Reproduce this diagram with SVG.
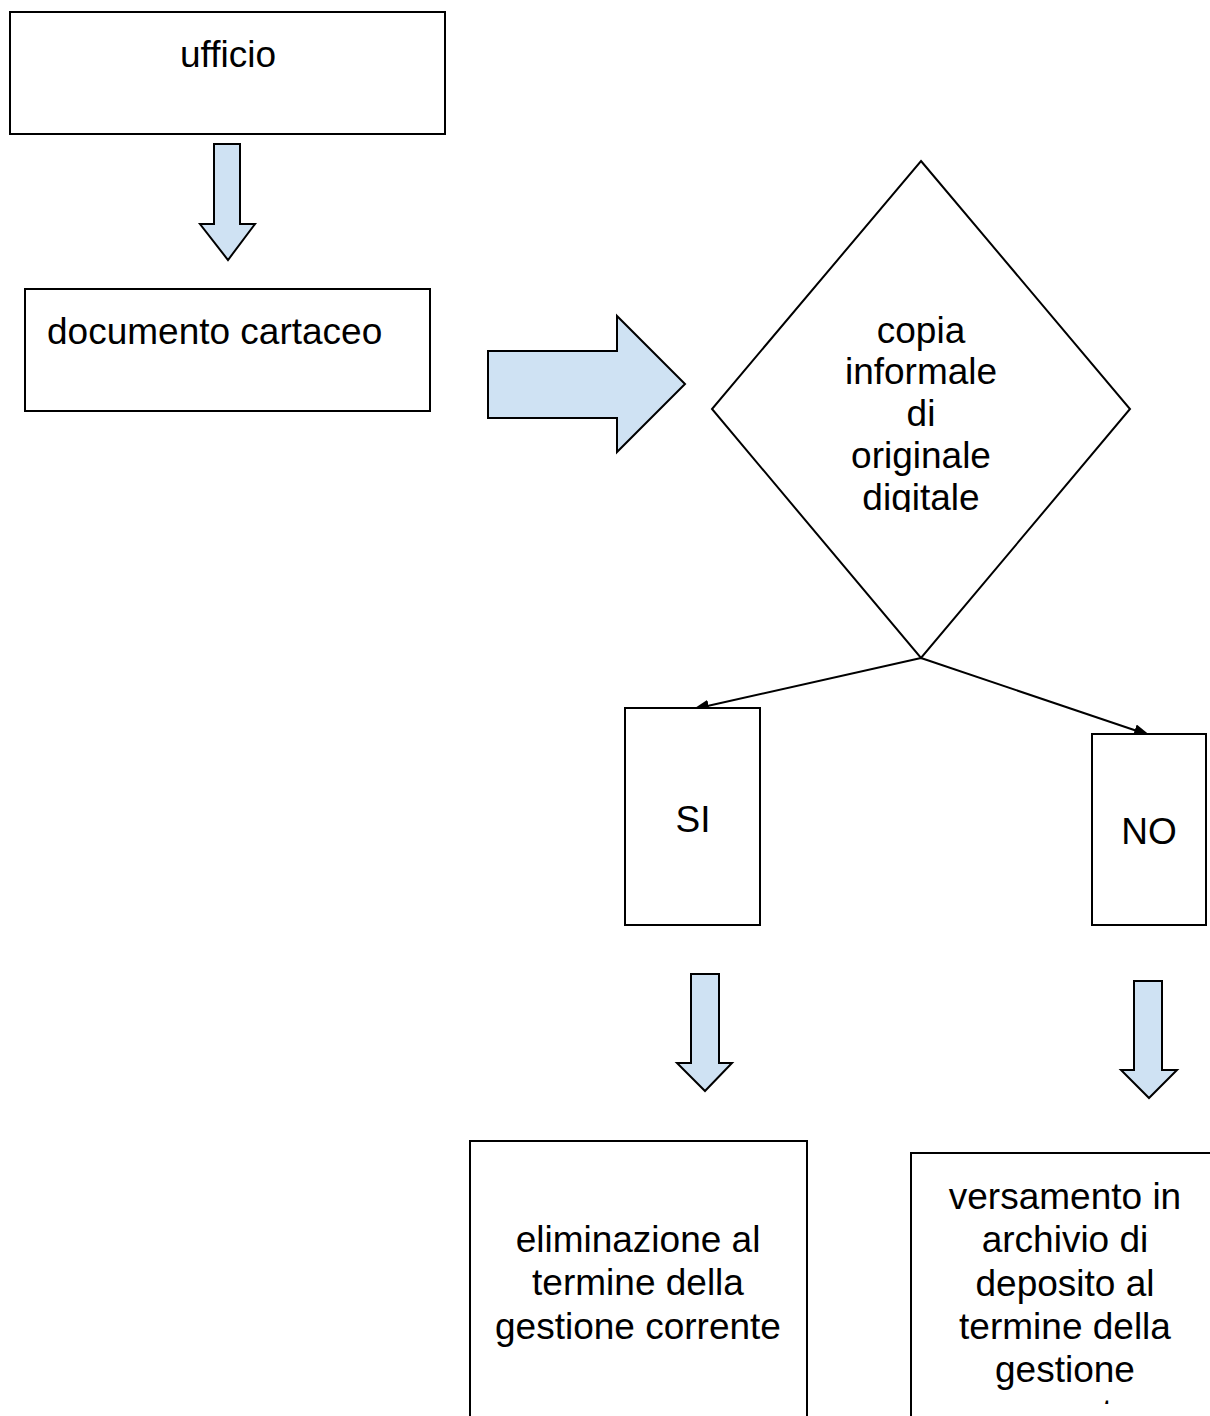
<svg xmlns="http://www.w3.org/2000/svg" width="1210" height="1416" viewBox="0 0 1210 1416">
<style>
.box{fill:#fff;stroke:#000;stroke-width:2}
.blk{fill:#cfe2f3;stroke:#000;stroke-width:2;stroke-linejoin:miter}
.t{font-family:"Liberation Sans",Arial,sans-serif;font-size:37px;fill:#000}
.c{text-anchor:middle}
.con{fill:none;stroke:#000;stroke-width:2}
</style>
<defs>
<marker id="ah" markerWidth="16" markerHeight="12" refX="15" refY="6" orient="auto" markerUnits="userSpaceOnUse">
<path d="M0,0 L16,6 L0,12 Z" fill="#000"/>
</marker>
<clipPath id="clipD"><rect x="700" y="150" width="440" height="362"/></clipPath>
<clipPath id="clipV"><rect x="900" y="1150" width="310" height="254"/></clipPath>
</defs>
<rect width="1210" height="1416" fill="#fff"/>
<g id="ufficio">
<rect class="box" x="10" y="12" width="435" height="122"/>
<text class="t c" x="228" y="67">ufficio</text>
</g>
<g id="arrow1"><polygon class="blk" points="214,144 240,144 240,224 255,224 228,260 200,224 214,224"/></g>
<g id="documento">
<rect class="box" x="25" y="289" width="405" height="122"/>
<text class="t" x="47" y="344">documento cartaceo</text>
</g>
<g id="arrow2"><polygon class="blk" points="488,351 617,351 617,316 685,384 617,452 617,418 488,418"/></g>
<g id="decisione">
<polygon class="box" points="921,161 1130,409 921,658 712,409"/>
<g clip-path="url(#clipD)">
<text class="t c" x="921" y="343">copia</text>
<text class="t c" x="921" y="384">informale</text>
<text class="t c" x="921" y="426">di</text>
<text class="t c" x="921" y="468">originale</text>
<text class="t c" x="921" y="510">digitale</text>
</g>
</g>
<g id="connectors">
<line class="con" x1="921" y1="658" x2="694" y2="709" marker-end="url(#ah)"/>
<line class="con" x1="921" y1="658" x2="1149" y2="735" marker-end="url(#ah)"/>
</g>
<g id="si">
<rect class="box" x="625" y="708" width="135" height="217"/>
<text class="t c" x="693" y="832">SI</text>
</g>
<g id="no">
<rect class="box" x="1092" y="734" width="114" height="191"/>
<text class="t c" x="1149" y="844">NO</text>
</g>
<g id="arrow3"><polygon class="blk" points="691,974 719,974 719,1063 732,1063 705,1091 677,1063 691,1063"/></g>
<g id="arrow4"><polygon class="blk" points="1134,981 1162,981 1162,1070 1177,1070 1149,1098 1121,1070 1134,1070"/></g>
<g id="eliminazione">
<rect class="box" x="470" y="1141" width="337" height="300"/>
<text class="t c" x="638" y="1252">eliminazione al</text>
<text class="t c" x="638" y="1295">termine della</text>
<text class="t c" x="638" y="1339">gestione corrente</text>
</g>
<g id="versamento">
<rect class="box" x="911" y="1153" width="320" height="300"/>
<g clip-path="url(#clipV)">
<text class="t c" x="1065" y="1209">versamento in</text>
<text class="t c" x="1065" y="1252">archivio di</text>
<text class="t c" x="1065" y="1296">deposito al</text>
<text class="t c" x="1065" y="1339">termine della</text>
<text class="t c" x="1065" y="1382">gestione</text>
<text class="t c" x="1065" y="1425">corrente</text>
</g>
</g>
</svg>
